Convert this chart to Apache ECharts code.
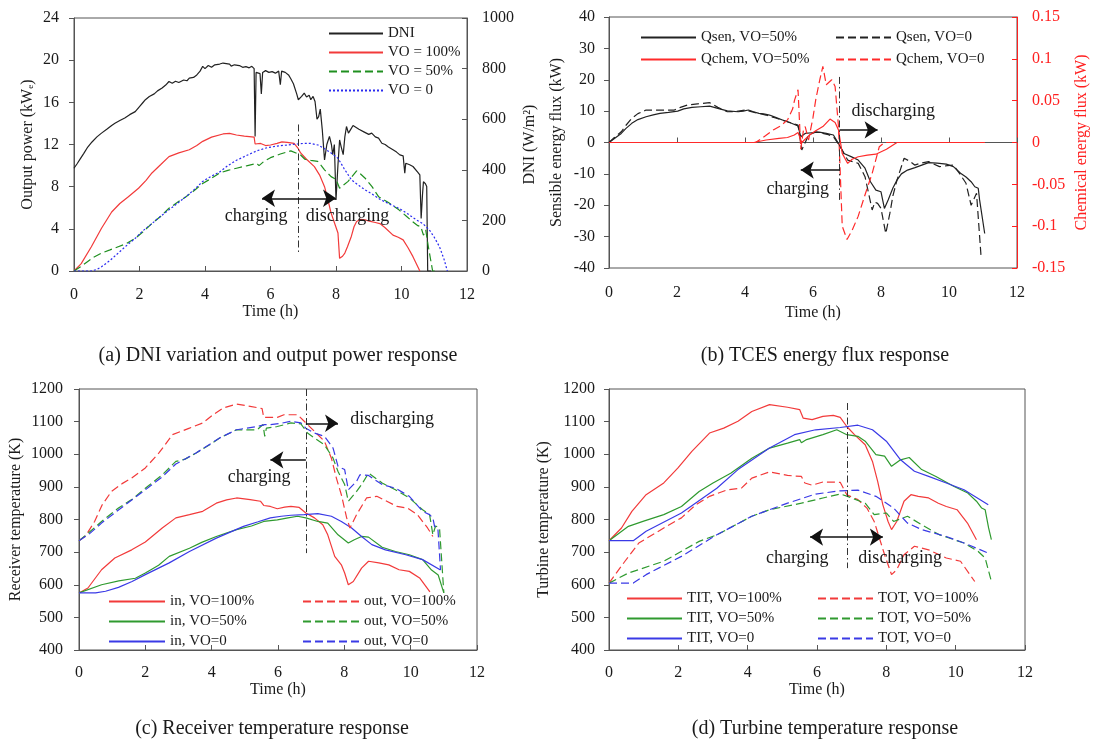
<!DOCTYPE html>
<html>
<head>
<meta charset="utf-8">
<title>DNI, TCES flux and temperature response</title>
<script src="https://cdn.jsdelivr.net/npm/echarts@6/dist/echarts.min.js"></script>
<style>
  html, body { margin: 0; padding: 0; background: #fff; }
  #chart { width: 1094px; height: 740px; }
</style>
</head>
<body>
<div id="chart"></div>
<script>
// ---- (a) DNI and output power, [time h, value] ----
const dni = [[0,406],[0.1,425],[0.2,445],[0.3,465],[0.42,490],[0.55,510],[0.7,530],[0.84,545],[1.0,560],[1.15,575],[1.25,584],[1.4,595],[1.55,605],[1.7,618],[1.87,630],[2.0,650],[2.1,665],[2.18,677],[2.3,690],[2.45,700],[2.55,712],[2.6,705],[2.69,723],[2.8,735],[2.9,749],[3.0,742],[3.1,750],[3.2,745],[3.35,755],[3.45,752],[3.52,762],[3.65,765],[3.75,775],[3.85,790],[3.93,809],[4.0,800],[4.1,812],[4.2,805],[4.3,815],[4.45,818],[4.55,822],[4.65,820],[4.75,818],[4.8,810],[4.9,815],[4.96,808],[5.05,812],[5.15,805],[5.25,808],[5.35,803],[5.43,809],[5.5,800],[5.53,532],[5.56,785],[5.62,790],[5.68,780],[5.72,700],[5.76,785],[5.85,792],[5.95,785],[6.05,788],[6.15,782],[6.25,790],[6.3,736],[6.34,790],[6.45,785],[6.55,775],[6.62,760],[6.7,740],[6.8,700],[6.85,677],[6.95,690],[7.03,703],[7.1,688],[7.18,695],[7.23,677],[7.3,690],[7.36,670],[7.42,600],[7.47,610],[7.52,640],[7.58,560],[7.65,439],[7.72,500],[7.8,532],[7.86,500],[7.9,460],[7.95,500],[8.0,281],[8.06,420],[8.11,518],[8.16,490],[8.22,460],[8.27,530],[8.32,571],[8.38,545],[8.45,560],[8.52,575],[8.58,571],[8.7,560],[8.85,550],[9.0,540],[9.09,545],[9.2,530],[9.3,525],[9.4,505],[9.5,500],[9.6,490],[9.74,479],[9.85,470],[9.95,459],[10.05,455],[10.1,387],[10.13,426],[10.25,420],[10.35,413],[10.5,390],[10.56,380],[10.6,208],[10.64,300],[10.67,353],[10.73,345],[10.77,334],[10.8,0],[10.9,0]];
const powerVO100 = [[0,0],[0.22,0.7],[0.53,2.3],[0.84,4.05],[1.15,5.6],[1.4,6.4],[1.66,7.05],[1.97,7.85],[2.2,8.6],[2.38,9.3],[2.65,10.1],[2.9,10.85],[3.2,11.2],[3.52,11.5],[3.75,11.9],[3.93,12.3],[4.2,12.7],[4.55,13.0],[4.75,13.05],[4.96,12.9],[5.2,12.8],[5.5,12.7],[5.53,12.05],[5.7,12.1],[5.85,11.9],[6.0,11.95],[6.2,12.1],[6.35,12.25],[6.51,12.2],[6.72,12.1],[6.85,11.6],[6.92,11.2],[7.1,10.6],[7.34,9.9],[7.5,9.1],[7.65,8.0],[7.75,6.8],[7.85,5.5],[7.96,4.5],[8.06,3.6],[8.11,1.2],[8.2,1.4],[8.27,1.7],[8.35,2.3],[8.47,3.3],[8.55,4.2],[8.63,4.7],[8.75,4.9],[8.89,4.85],[9.05,4.7],[9.2,4.6],[9.34,4.5],[9.5,4.1],[9.74,3.4],[9.9,3.2],[10.05,2.95],[10.2,2.2],[10.35,1.36],[10.56,0]];
const powerVO50 = [[0,0],[0.2,0.4],[0.42,0.9],[0.6,1.3],[0.84,1.7],[1.1,2.0],[1.35,2.3],[1.6,2.6],[1.87,3.1],[2.1,3.7],[2.38,4.5],[2.65,5.2],[2.9,5.95],[3.15,6.5],[3.42,7.05],[3.7,7.7],[3.93,8.3],[4.2,8.8],[4.45,9.3],[4.7,9.55],[4.96,9.75],[5.3,10.0],[5.58,10.2],[5.65,10.0],[5.8,10.4],[6.0,10.75],[6.3,11.1],[6.62,11.4],[6.92,11.0],[7.05,10.6],[7.23,10.5],[7.44,10.4],[7.55,10.0],[7.65,9.6],[7.85,8.95],[8.0,8.7],[8.06,8.65],[8.11,7.85],[8.37,8.5],[8.5,9.0],[8.63,9.5],[8.75,9.2],[8.89,8.8],[9.1,8.0],[9.3,7.05],[9.6,6.5],[9.92,5.8],[10.15,5.2],[10.33,4.7],[10.5,4.3],[10.59,4.2],[10.67,3.4],[10.74,3.9],[10.82,2.3],[10.95,0],[11.05,0]];
const powerVO0 = [[0,0],[0.53,0],[0.7,0.15],[0.84,0.4],[1.1,1.0],[1.35,1.7],[1.6,2.4],[1.87,3.1],[2.1,3.8],[2.38,4.5],[2.65,5.2],[2.9,5.8],[3.15,6.4],[3.42,7.05],[3.7,7.8],[3.93,8.5],[4.2,9.0],[4.45,9.4],[4.7,10.0],[4.96,10.5],[5.3,11.0],[5.58,11.4],[5.9,11.7],[6.2,11.85],[6.5,11.95],[6.82,12.05],[7.0,12.1],[7.23,12.1],[7.45,11.95],[7.65,11.6],[7.85,11.2],[8.06,10.7],[8.25,9.7],[8.47,8.65],[8.7,8.1],[8.89,7.7],[9.1,7.3],[9.34,6.8],[9.6,6.4],[9.95,5.9],[10.2,5.4],[10.43,4.9],[10.65,4.5],[10.85,3.9],[11.0,3.2],[11.16,2.3],[11.3,1.1],[11.4,0]];

// ---- (b) TCES energy flux ----
const qsenVO50 = [[0,0],[0.15,1.2],[0.36,2.9],[0.5,4.5],[0.67,6.1],[0.85,7.3],[1.09,8.2],[1.3,8.8],[1.5,9.3],[1.75,9.6],[2.02,10.0],[2.2,10.7],[2.44,11.2],[2.7,11.4],[2.96,11.6],[3.2,10.9],[3.48,10.1],[3.8,9.8],[3.95,10.0],[4.1,10.35],[4.25,9.8],[4.41,9.3],[4.55,9.1],[4.72,8.75],[4.9,8.0],[5.14,7.0],[5.35,6.2],[5.56,5.25],[5.64,1.85],[5.77,2.9],[5.97,3.1],[6.18,3.3],[6.39,2.9],[6.6,2.4],[6.75,-0.3],[6.91,-3.5],[7.12,-4.5],[7.33,-5.6],[7.53,-8.2],[7.69,-12.5],[7.85,-15.2],[8.0,-15.7],[8.1,-21.0],[8.21,-18.3],[8.35,-14.5],[8.47,-12],[8.6,-10],[8.78,-8.8],[9.0,-8.0],[9.2,-7.2],[9.4,-6.4],[9.65,-6.6],[9.92,-6.9],[10.13,-7.7],[10.34,-9.8],[10.5,-11.0],[10.65,-12.5],[10.76,-14.1],[10.86,-14.6],[10.9,-18.3],[11.05,-29]];
const qsenVO0 = [[0,0],[0.15,1.5],[0.36,3.4],[0.5,5.5],[0.67,7.7],[0.85,9.2],[1.09,10.35],[1.5,10.35],[1.92,10.35],[2.1,11.2],[2.33,12.0],[2.6,12.3],[2.96,12.7],[3.2,11.2],[3.48,9.8],[3.75,9.9],[4.0,10.35],[4.3,9.5],[4.62,8.75],[4.9,7.8],[5.25,6.6],[5.56,5.55],[5.67,-2.4],[5.87,2.4],[6.08,3.4],[6.29,2.9],[6.45,2.5],[6.6,1.85],[6.8,-1.3],[7.02,-5.6],[7.33,-6.65],[7.53,-10.9],[7.74,-21.5],[7.82,-19.0],[7.9,-19.4],[8.0,-21.0],[8.14,-29],[8.26,-22.6],[8.35,-17],[8.47,-12],[8.68,-5],[8.85,-6],[8.99,-7.2],[9.2,-6.5],[9.4,-6.1],[9.72,-7.7],[9.95,-7.4],[10.13,-7.2],[10.34,-10.35],[10.5,-13],[10.65,-20],[10.81,-16.2],[10.94,-35.9]];
const qchemVO50 = [[0,0],[4.26,0],[4.62,0.003],[5.0,0.005],[5.25,0.006],[5.45,0.009],[5.56,0.012],[5.67,0],[5.87,0.008],[6.08,0.014],[6.29,0.019],[6.5,0.028],[6.65,0.024],[6.75,0.015],[6.86,-0.013],[7.02,-0.025],[7.15,-0.02],[7.33,-0.017],[7.6,-0.015],[7.85,-0.014],[8.16,-0.008],[8.47,0],[11.05,0]];
const qchemVO0 = [[0,0],[4.31,0],[4.6,0.008],[4.83,0.015],[5.05,0.02],[5.25,0.027],[5.4,0.04],[5.46,0.051],[5.56,0.063],[5.64,-0.008],[5.72,0.015],[5.77,0.019],[5.87,0.003],[6.0,0.03],[6.08,0.051],[6.2,0.075],[6.29,0.091],[6.39,0.069],[6.47,0.072],[6.55,0.075],[6.65,0.067],[6.75,0.019],[6.86,-0.1],[7.0,-0.116],[7.15,-0.105],[7.33,-0.088],[7.55,-0.06],[7.74,-0.037],[7.95,-0.005],[8.1,0],[11.05,0]];

// ---- (c) receiver temperature (K) ----
const recInVO100 = [[0,575],[0.27,590],[0.68,646],[1.08,682],[1.59,707],[2.0,731],[2.51,774],[2.92,805],[3.33,815],[3.73,825],[4.14,850],[4.45,860],[4.75,866],[5.16,861],[5.47,856],[5.57,843],[5.77,840],[5.98,833],[6.2,838],[6.39,840],[6.64,837],[6.84,820],[7.1,805],[7.35,784],[7.5,753],[7.71,687],[7.91,661],[8.01,636],[8.12,600],[8.27,610],[8.52,651],[8.73,672],[9.04,667],[9.34,661],[9.65,646],[9.96,641],[10.27,621],[10.58,578]];
const recInVO50 = [[0,575],[0.68,600],[1.2,612],[1.7,620],[2.0,636],[2.4,660],[2.72,687],[3.33,712],[3.7,730],[4.14,748],[4.75,769],[5.2,780],[5.57,794],[5.98,799],[6.3,805],[6.59,810],[6.84,805],[7.2,794],[7.5,789],[7.81,753],[8.12,728],[8.3,738],[8.52,748],[8.73,746],[9.14,715],[9.54,702],[9.96,692],[10.36,677],[10.63,645],[10.83,630],[11.0,575]];
const recInVO0 = [[0,575],[0.5,575],[0.8,580],[1.19,592],[1.6,610],[2.0,631],[2.72,667],[3.33,702],[4.14,743],[4.96,779],[5.4,793],[5.77,805],[6.1,810],[6.39,813],[6.79,815],[7.2,818],[7.61,810],[7.91,794],[8.22,774],[8.52,748],[8.83,723],[9.24,707],[9.85,692],[10.36,677],[10.9,645]];
const recOutVO100 = [[0,735],[0.2,750],[0.47,794],[0.7,845],[0.98,886],[1.3,910],[1.59,927],[2.0,958],[2.41,1004],[2.82,1060],[3.33,1080],[3.73,1096],[4.04,1121],[4.35,1142],[4.75,1154],[5.16,1147],[5.52,1140],[5.57,1113],[5.98,1113],[6.18,1121],[6.59,1121],[6.79,1101],[7.1,1070],[7.4,1040],[7.61,988],[7.76,927],[7.91,876],[8.07,805],[8.17,774],[8.37,815],[8.67,866],[8.98,871],[9.28,856],[9.59,840],[9.9,835],[10.2,815],[10.51,774],[10.67,748]];
const recOutVO50 = [[0,735],[0.3,760],[0.68,794],[1.19,835],[1.6,862],[2.0,896],[2.51,937],[2.92,978],[3.2,985],[3.53,1004],[3.94,1029],[4.24,1050],[4.75,1075],[5.37,1075],[5.55,1091],[5.6,1055],[5.65,1080],[5.98,1085],[6.39,1096],[6.69,1093],[6.89,1065],[7.1,1050],[7.4,1029],[7.66,988],[7.81,947],[8.01,907],[8.12,856],[8.37,886],[8.52,907],[8.73,942],[9.14,912],[9.54,891],[9.96,866],[10.36,830],[10.57,815],[10.67,753],[10.75,780],[10.87,774],[11.0,575]];
const recOutVO0 = [[0,735],[0.3,755],[0.68,789],[1.2,830],[2.0,891],[2.5,930],[2.92,970],[3.53,1004],[4.24,1050],[4.75,1075],[5.37,1085],[5.6,1091],[5.77,1091],[6.1,1095],[6.39,1101],[6.69,1096],[6.84,1080],[7.1,1065],[7.4,1055],[7.66,1019],[7.81,963],[8.01,953],[8.12,891],[8.37,917],[8.47,937],[8.73,935],[9.14,907],[9.54,896],[9.96,871],[10.36,825],[10.57,815],[10.67,805],[10.72,779],[10.82,774],[10.9,645]];

// ---- (d) turbine temperature (K) ----
const titVO100 = [[0,735],[0.36,774],[0.66,825],[1.07,876],[1.58,912],[1.99,958],[2.39,1009],[2.9,1065],[3.31,1080],[3.72,1101],[4.12,1131],[4.63,1152],[5.15,1144],[5.5,1137],[5.6,1111],[5.86,1106],[6.17,1116],[6.47,1119],[6.67,1113],[6.86,1085],[7.08,1060],[7.39,1029],[7.6,978],[7.75,917],[7.9,845],[8.05,794],[8.15,769],[8.3,794],[8.51,856],[8.71,876],[8.92,871],[9.22,866],[9.5,850],[9.73,840],[10.04,830],[10.34,789],[10.6,738]];
const titVO50 = [[0,735],[0.56,779],[1.0,795],[1.58,815],[2.09,840],[2.6,886],[3.0,912],[3.51,942],[4.12,988],[4.63,1019],[5.15,1034],[5.5,1045],[5.55,1035],[5.7,1045],[6.17,1060],[6.57,1075],[6.86,1060],[7.18,1055],[7.39,1040],[7.7,999],[7.95,994],[8.15,963],[8.41,983],[8.66,990],[9.02,953],[9.43,932],[9.94,902],[10.35,881],[10.6,856],[10.75,835],[10.85,830],[10.95,774],[11.03,738]];
const titVO0 = [[0,735],[0.7,735],[1.07,764],[2.09,820],[3.11,896],[3.72,953],[4.63,1019],[5.35,1060],[5.96,1075],[6.67,1082],[7.18,1089],[7.6,1075],[8.0,1040],[8.41,983],[8.81,948],[9.22,932],[9.73,912],[10.24,891],[10.94,845]];
const totVO100 = [[0,605],[0.46,672],[0.86,728],[1.58,774],[2.09,805],[2.5,845],[2.9,871],[3.41,891],[3.82,896],[4.12,927],[4.63,946],[5.15,935],[5.55,932],[5.65,912],[5.86,905],[6.17,915],[6.67,914],[6.86,876],[7.18,861],[7.44,835],[7.65,794],[7.8,743],[7.95,692],[8.15,631],[8.3,646],[8.51,692],[8.81,718],[9.22,707],[9.73,682],[10.14,672],[10.55,610]];
const totVO50 = [[0,605],[0.56,636],[1.58,672],[2.6,733],[3.11,753],[4.12,810],[4.63,830],[5.55,850],[6.17,866],[6.67,878],[6.88,871],[7.39,850],[7.65,815],[8.0,820],[8.21,794],[8.61,810],[9.02,784],[9.53,753],[10.24,728],[10.65,702],[10.85,682],[11.03,610]];
const totVO0 = [[0,605],[0.7,605],[1.07,631],[2.09,687],[3.11,753],[4.12,810],[5.15,850],[5.96,878],[6.67,888],[7.18,890],[7.7,871],[8.21,835],[8.61,789],[9.02,769],[9.73,748],[10.24,728],[10.94,697]];

const captions = ['(a) DNI variation and output power response', '(b) TCES energy flux response',
                  '(c) Receiver temperature response', '(d) Turbine temperature response'];

const FONT = '"Liberation Serif", "Times New Roman", serif';
const INK = '#1a1a1a';
const RED = '#f23a3a', GREEN = '#2f9a2f', BLUE = '#3a3ae6', BLACK = '#222';
const DASH = [8, 4], DOT = [2, 2], DASHDOT = [7, 3, 1.5, 3];

const chart = echarts.init(document.getElementById('chart'));

function xAxis(gridIndex, nameGap, margin) {
  return {
    type: 'value', gridIndex, min: 0, max: 12, interval: 2,
    name: 'Time (h)', nameLocation: 'middle', nameGap,
    nameTextStyle: { fontFamily: FONT, fontSize: 16, color: INK },
    axisLine: { lineStyle: { color: '#555' } },
    axisTick: { inside: true, length: 5, lineStyle: { color: '#555' } },
    axisLabel: { margin, fontFamily: FONT, fontSize: 16, color: INK },
    splitLine: { show: false }
  };
}

function yAxis(gridIndex, o) {
  const color = o.color || INK;
  return {
    type: 'value', gridIndex, min: o.min, max: o.max, interval: o.interval,
    position: o.position || 'left',
    name: o.name, nameLocation: 'middle', nameGap: o.nameGap,
    nameTextStyle: { fontFamily: FONT, fontSize: 16, color },
    axisLine: { show: true, lineStyle: { color: o.color || '#555' } },
    axisTick: { inside: o.position === 'right', length: 5, lineStyle: { color: o.color || '#555' } },
    axisLabel: { margin: o.margin, fontFamily: FONT, fontSize: 16, color,
                 formatter: o.formatter || (v => String(v)) },
    splitLine: { show: false }
  };
}

function line(name, data, color, type, xi, yi, extra) {
  return Object.assign({
    type: 'line', name, data, xAxisIndex: xi, yAxisIndex: yi,
    symbol: 'none', showSymbol: false, silent: true, z: 3,
    lineStyle: { color, width: 1.2, type },
    itemStyle: { color }
  }, extra || {});
}

// guide line plus arrows, given in data coordinates of the host series
function guides(vertical, arrows) {
  const data = [[
    { coord: vertical[0], symbol: 'none', lineStyle: { color: '#333', width: 1, type: DASHDOT } },
    { coord: vertical[1], symbol: 'none' }
  ]];
  arrows.forEach(a => data.push([
    { coord: a[0], symbol: a[2] ? 'arrow' : 'none', lineStyle: { color: '#111', width: 1.5, type: 'solid' } },
    { coord: a[1], symbol: 'arrow' }
  ]));
  return { silent: true, symbolSize: 13, label: { show: false }, emphasis: { disabled: true }, data };
}

function notes(items) {
  return {
    silent: true, symbol: 'circle', symbolSize: 1, itemStyle: { color: 'rgba(0,0,0,0)' },
    label: { show: true, position: 'inside', formatter: '{b}', fontFamily: FONT, fontSize: 18, color: INK },
    data: items.map(([name, x, y]) => ({ name, coord: [x, y] }))
  };
}

function legend(names, left, top, gap, width) {
  return {
    data: names, orient: 'vertical', left, top, itemWidth: width, itemHeight: 14, itemGap: gap,
    selectedMode: false, itemStyle: { opacity: 0 },
    textStyle: { fontFamily: FONT, fontSize: 15, color: INK }
  };
}

const option = {
  animation: false,
  backgroundColor: '#fff',
  title: captions.map((text, i) => ({
    text, left: [273, 820, 267, 820][i], top: i < 2 ? 341 : 714, textAlign: 'center',
    textStyle: { fontFamily: FONT, fontSize: 20, fontWeight: 'normal', color: INK }
  })),
  grid: [
    { left: 74, top: 18, width: 393, height: 253 },
    { left: 609, top: 17, width: 408, height: 251 },
    { left: 79, top: 389, width: 398, height: 261 },
    { left: 609, top: 389, width: 416, height: 261 }
  ].map(g => Object.assign({ show: true, borderColor: '#555', borderWidth: 1, containLabel: false }, g)),
  xAxis: [xAxis(0, 32, 16), xAxis(1, 37, 17), xAxis(2, 32, 15), xAxis(3, 32, 15)],
  yAxis: [
    yAxis(0, { min: 0, max: 24, interval: 4, name: 'Output power (kWₑ)', nameGap: 38, margin: 15 }),
    yAxis(0, { min: 0, max: 1000, interval: 200, name: 'DNI (W/m²)', nameGap: 55, margin: 15, position: 'right' }),
    yAxis(1, { min: -40, max: 40, interval: 10, name: 'Sensible energy flux (kW)', nameGap: 44, margin: 14 }),
    yAxis(1, { min: -0.15, max: 0.15, interval: 0.05, name: 'Chemical energy flux (kW)', nameGap: 57, margin: 15,
               position: 'right', color: '#ff2020', formatter: v => String(+v.toFixed(2)) }),
    yAxis(2, { min: 400, max: 1200, interval: 100, name: 'Receiver temperature (K)', nameGap: 55, margin: 16 }),
    yAxis(3, { min: 400, max: 1200, interval: 100, name: 'Turbine temperature (K)', nameGap: 57, margin: 14 })
  ],
  legend: [
    legend(['DNI', 'VO = 100%', 'VO = 50%', 'VO = 0'], 323, 21, 4, 54),
    legend(['Qsen, VO=50%', 'Qchem, VO=50%'], 635, 25, 7, 55),
    legend(['Qsen, VO=0', 'Qchem, VO=0'], 830, 25, 7, 55),
    legend(['in, VO=100%', 'in, VO=50%', 'in, VO=0'], 103, 589, 5, 56),
    legend(['out, VO=100%', 'out, VO=50%', 'out, VO=0'], 297, 589, 5, 56),
    legend(['TIT, VO=100%', 'TIT, VO=50%', 'TIT, VO=0'], 621, 586, 5, 55),
    legend(['TOT, VO=100%', 'TOT, VO=50%', 'TOT, VO=0'], 812, 586, 5, 55)
  ],
  series: [
    // (a)
    line('DNI', dni, BLACK, 'solid', 0, 1),
    line('VO = 100%', powerVO100, RED, 'solid', 0, 0, {
      markLine: guides([[6.85, 13.9], [6.85, 1.7]], [[[5.74, 6.9], [8.0, 6.9], true]]),
      markPoint: notes([['charging', 5.56, 5.16], ['discharging', 8.35, 5.16]])
    }),
    line('VO = 50%', powerVO50, '#1f8f1f', DASH, 0, 0),
    line('VO = 0', powerVO0, '#2a2af0', DOT, 0, 0),
    // (b)
    line('Qsen, VO=50%', qsenVO50, BLACK, 'solid', 1, 2, {
      markLine: guides([[6.78, 20.9], [6.78, -18.3]], [[[6.78, 4], [7.9, 4]], [[6.78, -8.8], [5.64, -8.8]]]),
      markPoint: notes([['discharging', 8.36, 9.8], ['charging', 5.55, -15]])
    }),
    line('Qsen, VO=0', qsenVO0, BLACK, DASH, 1, 2),
    line('Qchem, VO=50%', qchemVO50, '#ff2a2a', 'solid', 1, 3),
    line('Qchem, VO=0', qchemVO0, '#ff2a2a', DASH, 1, 3),
    // (c)
    line('in, VO=100%', recInVO100, RED, 'solid', 2, 4, {
      markLine: guides([[6.84, 1200], [6.84, 697]], [[[6.84, 1095], [7.81, 1095]], [[6.84, 983], [5.77, 983]]]),
      markPoint: notes([['discharging', 9.44, 1106], ['charging', 5.43, 929]])
    }),
    line('in, VO=50%', recInVO50, GREEN, 'solid', 2, 4),
    line('in, VO=0', recInVO0, BLUE, 'solid', 2, 4),
    line('out, VO=100%', recOutVO100, RED, DASH, 2, 4),
    line('out, VO=50%', recOutVO50, GREEN, DASH, 2, 4),
    line('out, VO=0', recOutVO0, BLUE, DASH, 2, 4),
    // (d)
    line('TIT, VO=100%', titVO100, RED, 'solid', 3, 5, {
      markLine: guides([[6.86, 1157], [6.86, 651]], [[[5.8, 746], [7.9, 746], true]]),
      markPoint: notes([['charging', 5.43, 680], ['discharging', 8.4, 680]])
    }),
    line('TIT, VO=50%', titVO50, GREEN, 'solid', 3, 5),
    line('TIT, VO=0', titVO0, BLUE, 'solid', 3, 5),
    line('TOT, VO=100%', totVO100, RED, DASH, 3, 5),
    line('TOT, VO=50%', totVO50, GREEN, DASH, 3, 5),
    line('TOT, VO=0', totVO0, BLUE, DASH, 3, 5)
  ]
};

chart.setOption(option);
</script>
</body>
</html>
